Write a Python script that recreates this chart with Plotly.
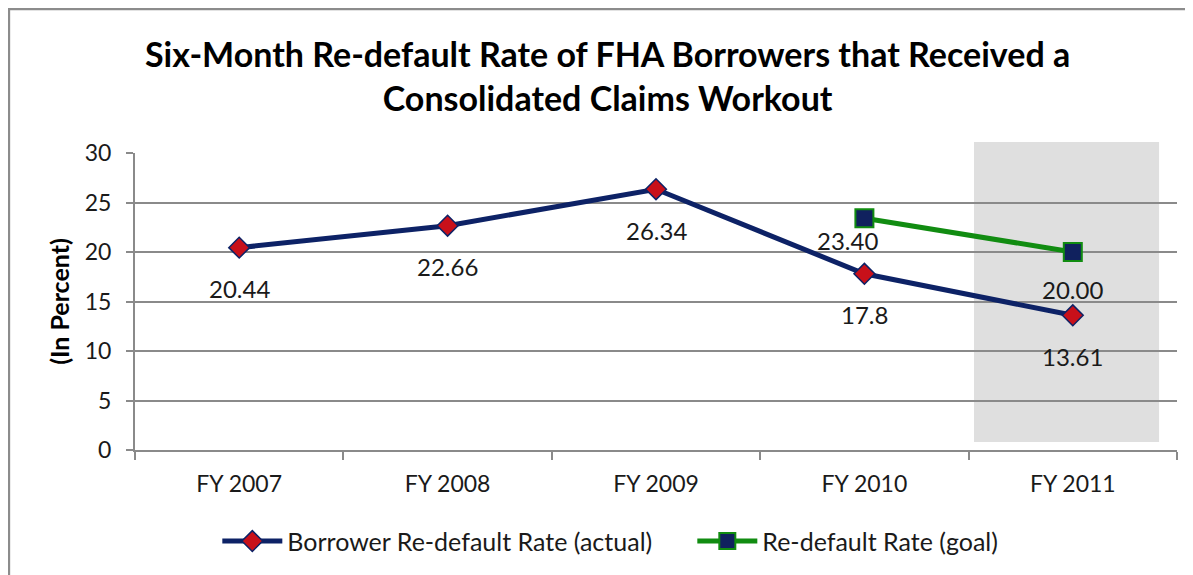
import plotly.graph_objects as go

# values
fiscal_years = ["FY 2007", "FY 2008", "FY 2009", "FY 2010", "FY 2011"]
actual_rate = [20.44, 22.66, 26.34, 17.8, 13.61]
actual_labels = ["20.44", "22.66", "26.34", "17.8", "13.61"]
goal_years = ["FY 2010", "FY 2011"]
goal_rate = [23.40, 20.00]
goal_labels = ["23.40", "20.00"]

FONT = "Lato"
NAVY = "#0d2266"
GREEN = "#118c11"
GRID = "#8a8a8a"

fig = go.Figure()

fig.add_trace(go.Scatter(
	x=fiscal_years,
	y=actual_rate,
	mode="lines+markers",
	name="Borrower Re-default Rate (actual)",
	line=dict(color=NAVY, width=5),
	marker=dict(symbol="diamond", size=16, color="#c8101a", line=dict(color=NAVY, width=1.5)),
))

fig.add_trace(go.Scatter(
	x=goal_years,
	y=goal_rate,
	mode="lines+markers",
	name="Re-default Rate (goal)",
	line=dict(color=GREEN, width=5),
	marker=dict(symbol="square", size=18, color="#10215e", line=dict(color=GREEN, width=2)),
))

# value labels sit well below each point
for x, y, t in zip(fiscal_years, actual_rate, actual_labels):
	fig.add_annotation(x=x, y=y, text=t, showarrow=False, yshift=-41,
		font=dict(family=FONT, size=24, color="#1a1a1a"))
for i, (x, y, t) in enumerate(zip(goal_years, goal_rate, goal_labels)):
	fig.add_annotation(x=x, y=y, text=t, showarrow=False, yshift=-22 if i == 0 else -37,
		xshift=-17 if i == 0 else 0,
		font=dict(family=FONT, size=24, color="#1a1a1a"))

# shaded FY 2011 band, sticks out a little above the plot area
fig.add_shape(type="rect", xref="x", yref="paper", x0=3.526, x1=4.414, y0=0.027, y1=1.037,
	fillcolor="#dfdfdf", line=dict(width=0), layer="below")

# outer chart border
fig.add_shape(type="rect", xref="paper", yref="paper", x0=-0.121, x1=1.2, y0=-1.0, y1=1.4848,
	line=dict(color="#8c8c8c", width=2.5), fillcolor="rgba(0,0,0,0)")

fig.update_layout(
	width=1185,
	height=567,
	margin=dict(l=127, r=16, t=145, b=125, autoexpand=False),
	paper_bgcolor="white",
	plot_bgcolor="white",
	font=dict(family=FONT, size=23, color="#1a1a1a"),
	title=dict(
		text="<b>Six-Month Re-default Rate of FHA Borrowers that Received a<br>Consolidated Claims Workout</b>",
		x=0.506, xanchor="center", y=0.896, yanchor="middle",
		font=dict(family=FONT, size=34, color="#000000"),
	),
	showlegend=True,
	legend=dict(orientation="h", x=0.079, xanchor="left", y=-0.23, yanchor="top",
		font=dict(family=FONT, size=25, color="#1a1a1a"),
		itemwidth=60, entrywidth=400),
	xaxis=dict(
		type="category",
		range=[-0.5, 4.5],
		showgrid=False,
		showline=True, linecolor=GRID, linewidth=2,
		ticks="outside", tickson="boundaries", ticklen=8, tickcolor=GRID, tickwidth=2,
		ticklabelstandoff=12,
		tickfont=dict(family=FONT, size=23),
	),
	yaxis=dict(
		range=[0, 30],
		dtick=5,
		showgrid=True, gridcolor=GRID, gridwidth=1.5,
		zeroline=False,
		showline=True, linecolor=GRID, linewidth=2,
		ticks="outside", ticklen=7, tickcolor=GRID, tickwidth=2,
		ticklabelstandoff=10,
		tickfont=dict(family=FONT, size=23),
		title=dict(text="<b>(In Percent)</b>", font=dict(family=FONT, size=25, color="#000000"), standoff=8),
	),
)

fig.write_html("out.html")
